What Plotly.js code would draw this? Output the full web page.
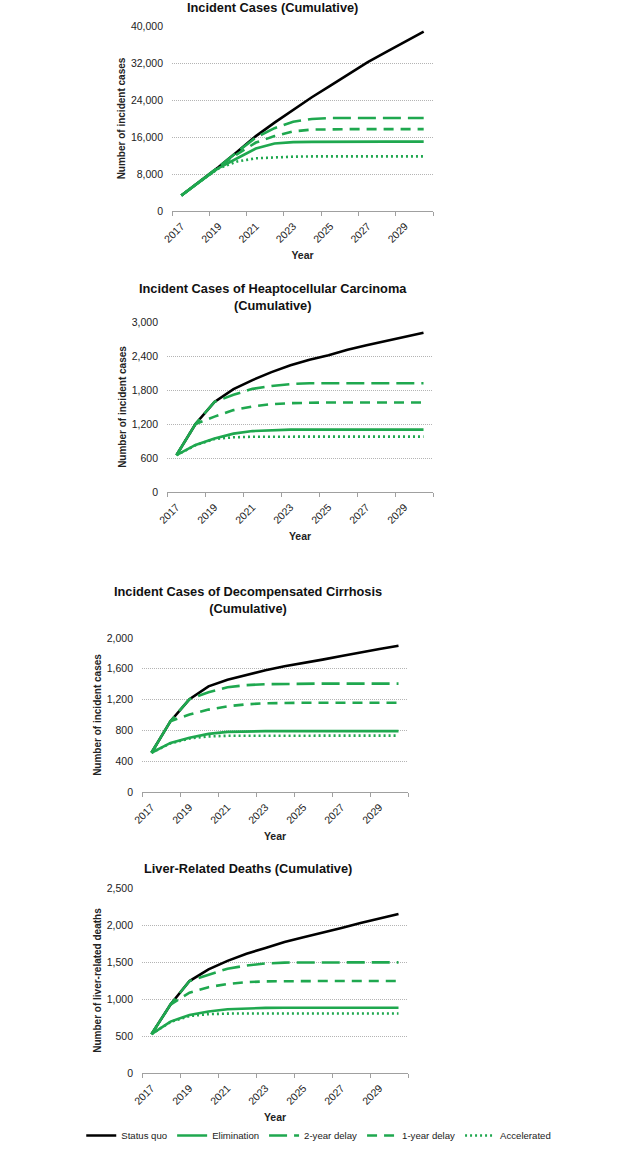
<!DOCTYPE html>
<html>
<head>
<meta charset="utf-8">
<script src="https://cdn.plot.ly/plotly-3.0.1.min.js"></script>
<style>html,body{margin:0;padding:0;background:#fff;}#chart{width:625px;height:1150px;}</style>
</head>
<body>
<div id="chart"></div>
<script>
// ---------- DATA ----------
const years = [2017, 2018, 2019, 2020, 2021, 2022, 2023, 2024, 2025, 2026, 2027, 2028, 2029, 2030];
const yearTicks = [2017, 2019, 2021, 2023, 2025, 2027, 2029];
const seriesNames = ["Status quo", "Elimination", "2-year delay", "1-year delay", "Accelerated"];

// Panel 1: Incident Cases (Cumulative)
const incStatusQuo   = [3350, 6400, 9500, 12800, 16200, 19100, 21900, 24600, 27100, 29700, 32200, 34400, 36600, 38800];
const incElimination = [3350, 6400, 9300, 11400, 13500, 14600, 14900, 14950, 15000, 15000, 15000, 15000, 15000, 15000];
const inc2YearDelay  = [3350, 6400, 9500, 12800, 15900, 17900, 19300, 19900, 20100, 20100, 20100, 20100, 20100, 20100];
const inc1YearDelay  = [3350, 6400, 9500, 12300, 14800, 16200, 17200, 17600, 17700, 17700, 17700, 17700, 17700, 17700];
const incAccelerated = [3350, 6400, 9200, 10700, 11400, 11600, 11750, 11800, 11800, 11800, 11800, 11800, 11800, 11800];

// Panel 2: Incident Cases of HCC (Cumulative)
const hccStatusQuo   = [650, 1200, 1590, 1815, 1975, 2115, 2235, 2335, 2415, 2510, 2590, 2665, 2745, 2810];
const hccElimination = [650, 830, 945, 1030, 1075, 1093, 1100, 1100, 1100, 1100, 1100, 1100, 1100, 1100];
const hcc2YearDelay  = [650, 1200, 1590, 1715, 1820, 1870, 1905, 1920, 1920, 1920, 1920, 1920, 1920, 1920];
const hcc1YearDelay  = [650, 1200, 1330, 1445, 1510, 1550, 1568, 1578, 1580, 1580, 1580, 1580, 1580, 1580];
const hccAccelerated = [650, 825, 935, 965, 975, 978, 978, 978, 978, 978, 978, 978, 978, 978];

// Panel 3: Incident Cases of Decompensated Cirrhosis (Cumulative)
const dcStatusQuo   = [510, 920, 1205, 1372, 1459, 1524, 1580, 1632, 1680, 1719, 1766, 1814, 1857, 1900];
const dcElimination = [510, 637, 705, 755, 781, 789, 790, 790, 790, 790, 790, 790, 790, 790];
const dc2YearDelay  = [510, 920, 1205, 1295, 1360, 1388, 1400, 1405, 1408, 1408, 1408, 1408, 1408, 1408];
const dc1YearDelay  = [510, 920, 1005, 1070, 1113, 1139, 1152, 1158, 1160, 1160, 1160, 1160, 1160, 1160];
const dcAccelerated = [510, 632, 695, 722, 730, 732, 732, 732, 732, 732, 732, 732, 732, 732];

// Panel 4: Liver-Related Deaths (Cumulative)
const ldStatusQuo   = [525, 925, 1243, 1400, 1515, 1612, 1689, 1770, 1833, 1892, 1959, 2027, 2085, 2150];
const ldElimination = [525, 695, 785, 832, 862, 876, 880, 882, 882, 882, 882, 882, 882, 882];
const ld2YearDelay  = [525, 925, 1243, 1330, 1410, 1452, 1480, 1492, 1495, 1495, 1495, 1495, 1495, 1495];
const ld1YearDelay  = [525, 925, 1085, 1160, 1203, 1228, 1238, 1242, 1243, 1243, 1243, 1243, 1243, 1243];
const ldAccelerated = [525, 690, 770, 795, 803, 805, 805, 805, 805, 805, 805, 805, 805, 805];

const panelTitles = [
  "Incident Cases (Cumulative)",
  "Incident Cases of Heaptocellular Carcinoma<br>(Cumulative)",
  "Incident Cases of Decompensated Cirrhosis<br>(Cumulative)",
  "Liver-Related Deaths (Cumulative)"
];
const yTitles = ["Number of incident cases", "Number of incident cases", "Number of incident cases", "Number of liver-related deaths"];
const xTitle = "Year";
const yMax = [40000, 3000, 2000, 2500];
const yStep = [8000, 600, 400, 500];

// ---------- STYLE ----------
const GREEN = "#1fa84f";
const styles = [
  {color: "#000000", dash: "solid"},
  {color: GREEN, dash: "solid"},
  {color: GREEN, dash: "18px,7px"},
  {color: GREEN, dash: "10px,7px"},
  {color: GREEN, dash: "2px,3px"}
];
const FONT = "Liberation Sans, Arial, Helvetica, sans-serif";

const panelData = [
  [incStatusQuo, incElimination, inc2YearDelay, inc1YearDelay, incAccelerated],
  [hccStatusQuo, hccElimination, hcc2YearDelay, hcc1YearDelay, hccAccelerated],
  [dcStatusQuo, dcElimination, dc2YearDelay, dc1YearDelay, dcAccelerated],
  [ldStatusQuo, ldElimination, ld2YearDelay, ld1YearDelay, ldAccelerated]
];

// layout positions in pixels (left, right, top, bottom)
const W = 625, H = 1150;
const boxes = [
  [172, 433, 26, 211],
  [167, 433, 322, 492],
  [142, 408, 638, 792],
  [142, 408, 888, 1073]
];
const titleY = [8, 297, 600, 868];
const titleX = [272, 273, 248, 248];

const traces = [];
panelData.forEach((series, p) => {
  const ax = p === 0 ? "" : String(p + 1);
  series.forEach((vals, s) => {
    traces.push({
      type: "scatter", mode: "lines",
      x: years, y: vals,
      name: seriesNames[s],
      legendgroup: seriesNames[s],
      showlegend: p === 0,
      xaxis: "x" + ax, yaxis: "y" + ax,
      line: {color: styles[s].color, width: 2.6, dash: styles[s].dash},
      hoverinfo: "skip"
    });
  });
});

const layout = {
  width: W, height: H,
  margin: {l: 0, r: 0, t: 0, b: 0},
  paper_bgcolor: "#ffffff", plot_bgcolor: "#ffffff",
  font: {family: FONT, size: 10.5, color: "#222"},
  showlegend: true,
  legend: {
    orientation: "h", x: 0.51, xanchor: "center", y: 0, yanchor: "bottom",
    font: {family: FONT, size: 9.6, color: "#222"}, itemwidth: 30, tracegroupgap: 0
  },
  annotations: []
};

const boundaries = [];
for (let i = 0; i <= years.length; i++) boundaries.push(years[0] - 0.5 + i);

boxes.forEach((b, p) => {
  const ax = p === 0 ? "" : String(p + 1);
  const yticks = [];
  for (let v = 0; v <= yMax[p]; v += yStep[p]) yticks.push(v);
  layout["xaxis" + ax] = {
    domain: [b[0] / W, b[1] / W],
    anchor: "y" + ax,
    range: [years[0] - 0.5, years[years.length - 1] + 0.5],
    tickmode: "array", tickvals: yearTicks, ticktext: yearTicks.map(String),
    ticks: "", tickangle: -45, ticklabelstandoff: 4,
    showgrid: false, zeroline: false,
    showline: true, linecolor: "#a0a0a0", linewidth: 1,
    minor: {tickmode: "array", tickvals: boundaries.filter((v, i) => i % 2 === 0), ticks: "outside", ticklen: 4, tickcolor: "#a0a0a0", tickwidth: 1, showgrid: false},
    tickfont: {family: FONT, size: 10.5, color: "#222"},
    title: {text: "<b>" + xTitle + "</b>", font: {family: FONT, size: 10.5, color: "#222"}, standoff: 7},
    automargin: false, fixedrange: true
  };
  layout["yaxis" + ax] = {
    domain: [1 - b[3] / H, 1 - b[2] / H],
    anchor: "x" + ax,
    range: [0, yMax[p]],
    tickmode: "array", tickvals: yticks, ticktext: yticks.map(v => v.toLocaleString("en-US")),
    ticks: "", showline: false, zeroline: false, ticklabelstandoff: 8,
    showgrid: true, gridcolor: "#b4b4b4", gridwidth: 1, griddash: "1px,1px",
    tickfont: {family: FONT, size: 10.5, color: "#222"},
    title: {text: "<b>" + yTitles[p] + "</b>", font: {family: FONT, size: 10, color: "#222"}, standoff: 3},
    automargin: false, fixedrange: true
  };
  layout.annotations.push({
    xref: "paper", yref: "paper",
    x: titleX[p] / W, xanchor: "center",
    y: 1 - titleY[p] / H, yanchor: "middle",
    text: "<b>" + panelTitles[p] + "</b>", showarrow: false,
    font: {family: FONT, size: 12.8, color: "#111"}
  });
});

Plotly.newPlot("chart", traces, layout, {staticPlot: true, displayModeBar: false});
</script>
</body>
</html>
